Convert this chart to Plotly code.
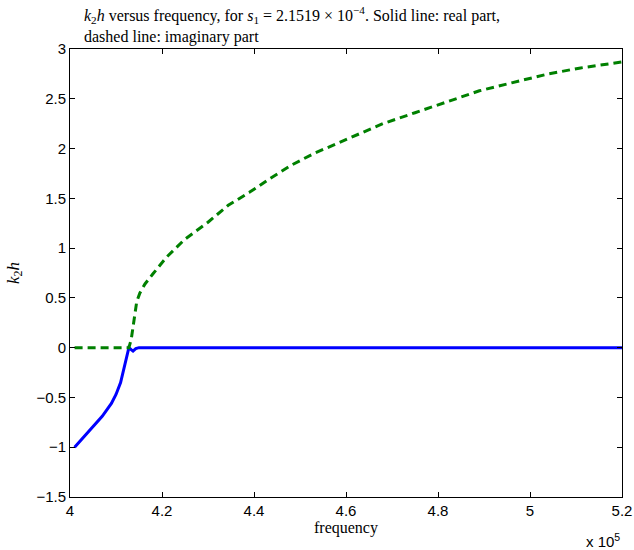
import plotly.graph_objects as go

# frequency in Hz
freq_real = [401000, 403000, 405000, 407000, 409000, 410000, 411000, 411500, 412000,
             412500, 412800, 413300, 413700, 414300, 415000, 430000, 460000, 490000, 520000]
k2h_real = [-1.00, -0.90, -0.80, -0.69, -0.56, -0.47, -0.35, -0.26, -0.15,
            -0.06, 0.00, -0.02, -0.035, -0.01, 0.00, 0.00, 0.00, 0.00, 0.00]

freq_imag = [401000, 405000, 410000, 412800, 413300, 413700, 414100, 414500, 415200,
             416300, 418000, 421000, 425000, 430000, 434400, 439000, 443500, 448000,
             453000, 458000, 463000, 468000, 475000, 482000, 489000, 496000, 504000,
             511000, 520000]
k2h_imag = [0.00, 0.00, 0.00, 0.00, 0.08, 0.20, 0.34, 0.46, 0.55,
            0.64, 0.74, 0.91, 1.09, 1.26, 1.43, 1.56, 1.70, 1.83,
            1.95, 2.05, 2.15, 2.25, 2.36, 2.47, 2.58, 2.66, 2.75,
            2.81, 2.87]

x_tickvals = [400000, 420000, 440000, 460000, 480000, 500000, 520000]
x_ticktext = ["4", "4.2", "4.4", "4.6", "4.8", "5", "5.2"]
y_tickvals = [-1.5, -1, -0.5, 0, 0.5, 1, 1.5, 2, 2.5, 3]

fig = go.Figure()
fig.add_trace(go.Scatter(x=freq_real, y=k2h_real, mode="lines",
                         line=dict(color="#0000ff", width=3), showlegend=False))
fig.add_trace(go.Scatter(x=freq_imag, y=k2h_imag, mode="lines",
                         line=dict(color="#008000", width=3, dash="8px,5px"), showlegend=False))

serif = "Liberation Serif, Times New Roman, serif"
tickfont = dict(family="Liberation Sans, Arial, sans-serif", size=15, color="black")
fig.update_layout(
    width=634, height=550,
    margin=dict(l=70, r=12, t=49, b=53, autoexpand=False),
    paper_bgcolor="white", plot_bgcolor="white",
    xaxis=dict(range=[400000, 520000], tickvals=x_tickvals, ticktext=x_ticktext,
               ticks="inside", ticklen=5, tickcolor="black", mirror="ticks",
               showline=True, linecolor="black", linewidth=1, showgrid=False,
               zeroline=False, tickfont=tickfont, ticklabelstandoff=0, automargin=False),
    yaxis=dict(range=[-1.5, 3], tickvals=y_tickvals,
               ticks="inside", ticklen=5, tickcolor="black", mirror="ticks",
               showline=True, linecolor="black", linewidth=1, showgrid=False,
               zeroline=False, tickfont=tickfont, automargin=False,
               title=dict(text="<i>k</i><sub>2</sub><i>h</i>", standoff=12,
                          font=dict(family=serif, size=17, color="black"))),
)
fig.add_annotation(
    text="<i>k</i><sub>2</sub><i>h</i> versus frequency, for <i>s</i><sub>1</sub> = 2.1519 × 10<sup>−4</sup>. Solid line: real part,<br>dashed line: imaginary part",
    xref="paper", yref="paper", x=12/552, y=1, xanchor="left", yanchor="bottom",
    yshift=1, align="left", showarrow=False,
    font=dict(family=serif, size=16, color="black"))
fig.add_annotation(text="frequency", xref="paper", yref="paper",
                   x=0.5, y=0, xanchor="center", yanchor="middle", yshift=-31, showarrow=False,
                   font=dict(family=serif, size=16, color="black"))
fig.add_annotation(text="x 10<sup>5</sup>", xref="paper", yref="paper",
                   x=1, y=0, xanchor="right", yanchor="top", yshift=-32, showarrow=False,
                   font=dict(family="Liberation Sans, Arial, sans-serif", size=15, color="black"))

fig.write_html("out.html", config={"displayModeBar": False},
               post_script="document.body.style.margin='0';document.body.style.overflow='hidden';")
